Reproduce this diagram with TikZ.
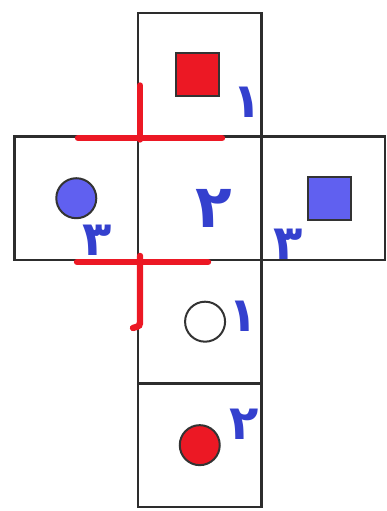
\documentclass[tikz,border=0pt]{standalone}
\usepackage{fontspec}
\usepackage{xcolor}
\usepackage{tikz}
\usetikzlibrary{positioning,calc}
\TeXXeTstate=1
\newfontfamily\digitfont[Script=Arabic]{DejaVu Sans}
\definecolor{inkblue}{RGB}{52,64,206}
\definecolor{inkred}{RGB}{236,24,36}
\definecolor{dotblue}{RGB}{96,96,240}
\definecolor{edgegray}{RGB}{45,45,45}
\tikzset{
face/.style={
draw=edgegray,
line width=1.8pt,
minimum size=92.6pt,
inner sep=0pt,
outer sep=0pt
},
marksq/.style={
draw=black!80,
line width=1.5pt,
minimum size=32pt,
inner sep=0pt
},
markdot/.style={
circle,
draw=black!80,
line width=1.5pt,
minimum size=30pt,
inner sep=0pt
},
digit/.style={
text=inkblue,
font=\digitfont\bfseries\fontsize{36}{36}\selectfont,
inner sep=0pt
},
cutline/.style={
draw=inkred,
line width=4.8pt,
line cap=round
}
}
\newcommand{\fa}[1]{\beginR #1\endR}

\begin{document}
\begin{tikzpicture}[x=0.75pt,y=-0.75pt,node distance=0pt]
\useasboundingbox (0,0) rectangle (386,511);

% faces of the net
\node[face] (top) at (199.75,74.75) {};
\node[face,below=of top] (mid) {};
\node[face,below=of mid] (low) {};
\node[face,below=of low] (base) {};
\node[face,left=of mid] (west) {};
\node[face,right=of mid] (east) {};

% marks on the faces
\node[marksq,fill=inkred] (redsq) at ([xshift=-1.5pt]top.center) {};
\node[markdot,fill=dotblue] (bluedot) at (west.center) {};
\node[marksq,fill=dotblue] (bluesq) at ([xshift=4.5pt]east.center) {};
\node[markdot,fill=white] (whitedot) at ([xshift=4pt]low.center) {};
\node[markdot,fill=inkred] (reddot) at (base.center) {};

% pair numbers
\node[digit] (ntop) at (247,102) {\fa{۱}};
\node[digit,scale=1.25] (nmid) at (214,208) {\fa{۲}};
\node[digit] (nlow) at (243,316) {\fa{۱}};
\node[digit] (nbase) at (244,424) {\fa{۲}};
\node[digit] (nwest) at (97,240) {\fa{۳}};
\node[digit] (neast) at (288,244) {\fa{۳}};

% red cut marks
\draw[cutline] ($(mid.north west)+(-60,1.5)$) -- ($(mid.north west)+(84,1.5)$);
\draw[cutline] ($(mid.north west)+(2,-51)$) -- ($(mid.north west)+(2,3)$);
\draw[cutline] ($(mid.south west)+(-61,2)$) -- ($(mid.south west)+(70,2)$);
\draw[cutline] ($(mid.south west)+(2,-4)$) -- ($(mid.south west)+(2,60)$)
  .. controls ($(mid.south west)+(2,66)$) .. ($(mid.south west)+(-5,68)$);
\end{tikzpicture}
\end{document}
